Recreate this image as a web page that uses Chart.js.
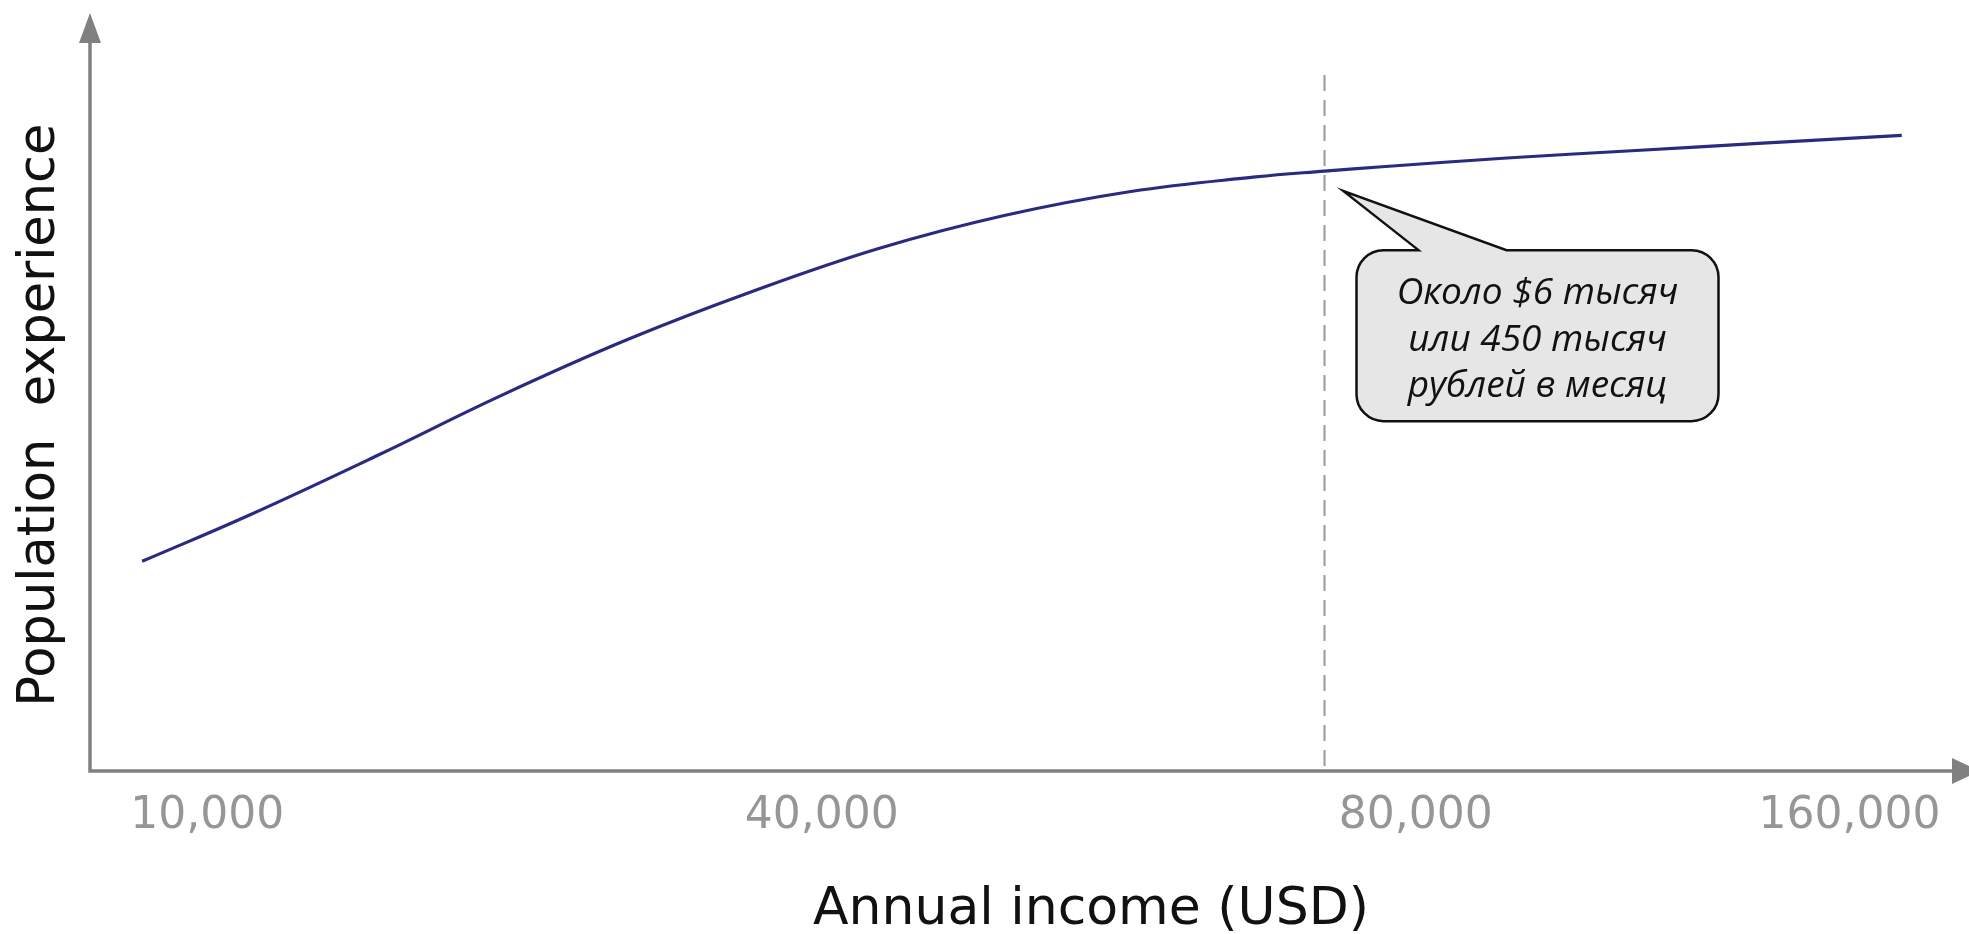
<!DOCTYPE html>
<html>
<head>
<meta charset="utf-8">
<script src="https://cdn.jsdelivr.net/npm/chart.js@4.4.1/dist/chart.umd.min.js"></script>
<style>
  html, body { margin: 0; padding: 0; background: #fff; }
  #wrap { width: 1969px; height: 934px; position: relative; }
</style>
</head>
<body>
<div id="wrap"><canvas id="grafico"></canvas></div>
<script>
// position along the income axis (0-100) and level of the curve (0-100)
const incomePos = [2.8, 8.6, 15.4, 22.1, 28.9, 35.6, 42.4, 49.1, 55.9, 62.6, 66.3, 69.4, 76.1, 82.8, 89.6, 97.3];
const experience = [28.8, 35.2, 43.3, 51.6, 59.3, 65.9, 71.8, 76.3, 79.6, 81.6, 82.4, 83.0, 84.2, 85.2, 86.2, 87.3];
const tickPos = [6.3, 39.3, 71.2, 94.5];
const tickLabels = ['10,000', '40,000', '80,000', '160,000'];
const markerX = 66.3;   // dashed line
const markerTop = 95.6;
const markerY = 82.4;   // where the callout points
const calloutLines = ['Около $6 тысяч', 'или 450 тысяч', 'рублей в месяц'];
const xTitle = 'Annual income (USD)';
const yTitle = 'Population  experience ';

const ejes = {
  id: 'ejes',
  beforeDatasetsDraw(chart) {
    const {ctx, chartArea: a, scales} = chart;
    const mx = scales.x.getPixelForValue(markerX);
    ctx.save();
    // dashed vertical line
    ctx.strokeStyle = '#a0a0a0';
    ctx.lineWidth = 2.2;
    ctx.setLineDash([16, 9]);
    ctx.beginPath();
    ctx.moveTo(mx, scales.y.getPixelForValue(markerTop));
    ctx.lineTo(mx, a.bottom);
    ctx.stroke();
    ctx.setLineDash([]);
    // axes with arrow heads
    ctx.strokeStyle = '#808080';
    ctx.fillStyle = '#808080';
    ctx.lineWidth = 3.5;
    ctx.beginPath();
    ctx.moveTo(a.left, a.top);
    ctx.lineTo(a.left, a.bottom);
    ctx.lineTo(a.right, a.bottom);
    ctx.stroke();
    ctx.beginPath();
    ctx.moveTo(a.left, a.top - 30);
    ctx.lineTo(a.left - 11, a.top);
    ctx.lineTo(a.left + 11, a.top);
    ctx.closePath();
    ctx.fill();
    ctx.beginPath();
    ctx.moveTo(a.right + 28, a.bottom);
    ctx.lineTo(a.right, a.bottom - 13);
    ctx.lineTo(a.right, a.bottom + 13);
    ctx.closePath();
    ctx.fill();
    ctx.restore();
  },
  afterDraw(chart) {
    const {ctx, chartArea: a} = chart;
    ctx.save();
    ctx.font = '52px "DejaVu Sans"';
    ctx.fillStyle = '#111';
    ctx.textAlign = 'center';
    ctx.textBaseline = 'alphabetic';
    ctx.fillText(xTitle, (a.left + a.right) / 2 + 70, chart.height - 10);
    ctx.restore();
  }
};

const globo = {
  id: 'globo',
  afterDatasetsDraw(chart) {
    const {ctx, scales} = chart;
    const ax = scales.x.getPixelForValue(markerX);
    const ay = scales.y.getPixelForValue(markerY);
    const L = ax + 32, R = ax + 394, T = ay + 79, B = ay + 250, r = 27;
    ctx.save();
    ctx.beginPath();
    ctx.moveTo(L + r, T);
    ctx.lineTo(ax + 94, T);
    ctx.lineTo(ax + 19, ay + 20);
    ctx.lineTo(ax + 182, T);
    ctx.lineTo(R - r, T);
    ctx.arcTo(R, T, R, T + r, r);
    ctx.lineTo(R, B - r);
    ctx.arcTo(R, B, R - r, B, r);
    ctx.lineTo(L + r, B);
    ctx.arcTo(L, B, L, B - r, r);
    ctx.lineTo(L, T + r);
    ctx.arcTo(L, T, L + r, T, r);
    ctx.closePath();
    ctx.fillStyle = '#e6e6e6';
    ctx.fill();
    ctx.strokeStyle = '#111';
    ctx.lineWidth = 2.5;
    ctx.stroke();
    ctx.fillStyle = '#111';
    ctx.font = 'italic 37px "Open Sans"';
    ctx.textAlign = 'center';
    ctx.textBaseline = 'alphabetic';
    const cx = (L + R) / 2;
    ctx.fillText(calloutLines[0], cx, ay + 133);
    ctx.fillText(calloutLines[1], cx, ay + 180);
    ctx.fillText(calloutLines[2], cx, ay + 226);
    ctx.restore();
  }
};

new Chart(document.getElementById('grafico').getContext('2d'), {
  type: 'line',
  data: {
    datasets: [{
      data: incomePos.map((v, i) => ({x: v, y: experience[i]})),
      borderColor: '#2a2a80',
      borderWidth: 3.2,
      pointRadius: 0,
      fill: false,
      tension: 0.4
    }]
  },
  options: {
    responsive: true,
    maintainAspectRatio: false,
    animation: false,
    events: [],
    layout: { padding: { left: 0, right: 17, top: 43, bottom: 0 } },
    plugins: { legend: { display: false }, tooltip: { enabled: false } },
    scales: {
      x: {
        type: 'linear',
        min: 0,
        max: 100,
        grid: { display: false, drawTicks: false },
        border: { display: false },
        afterBuildTicks: s => { s.ticks = tickPos.map(v => ({value: v})); },
        afterFit: s => { s.height = 163; },
        ticks: {
          autoSkip: false,
          maxRotation: 0,
          padding: 19,
          color: '#969696',
          font: { family: 'DejaVu Sans', size: 44 },
          callback: (v, i) => tickLabels[i]
        }
      },
      y: {
        type: 'linear',
        min: 0,
        max: 100,
        grid: { display: false },
        border: { display: false },
        ticks: { display: false },
        afterFit: s => { s.width = 90; },
        title: {
          display: true,
          text: yTitle,
          color: '#111',
          font: { family: 'DejaVu Sans', size: 51 },
          padding: { top: 10, bottom: 0 }
        }
      }
    }
  },
  plugins: [ejes, globo]
});
</script>
</body>
</html>
